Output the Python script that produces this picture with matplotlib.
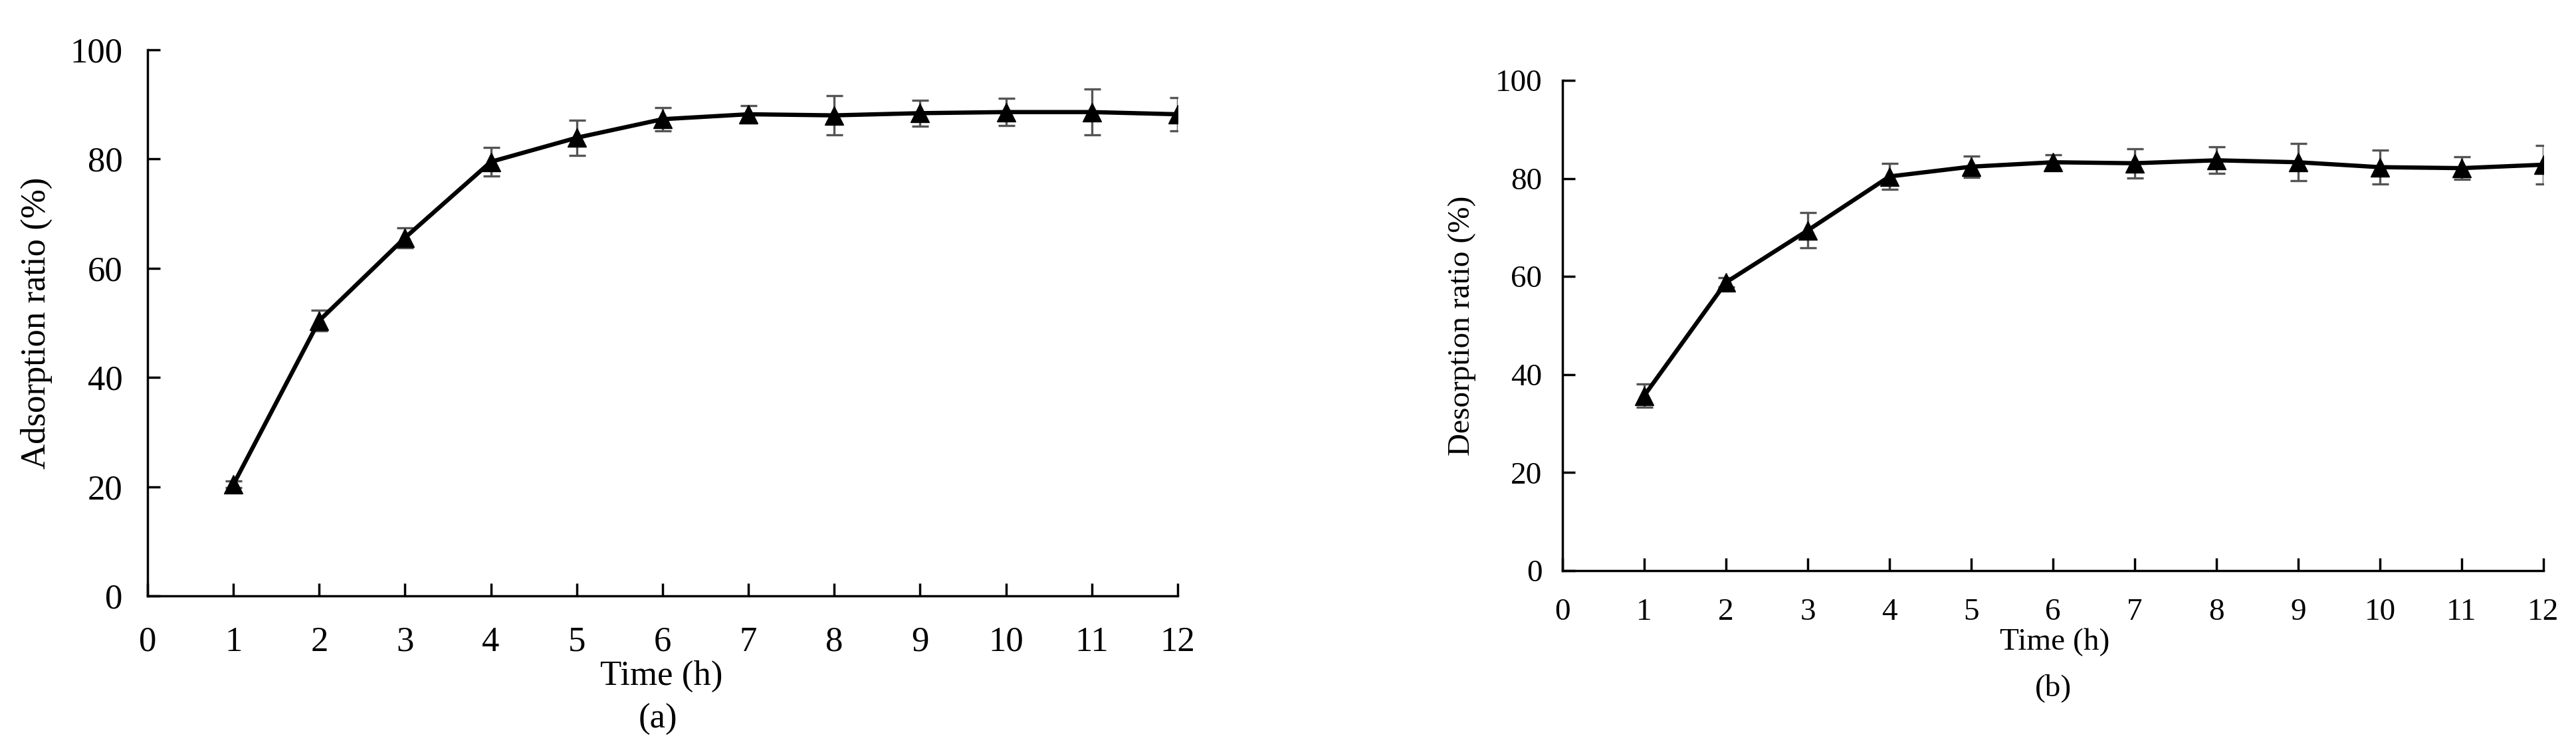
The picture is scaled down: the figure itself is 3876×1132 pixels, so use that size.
import numpy as np
import matplotlib
matplotlib.use("Agg")
import matplotlib.pyplot as plt

# time points (h)
time_h = [1, 2, 3, 4, 5, 6, 7, 8, 9, 10, 11, 12]

# (a) adsorption ratio (%) and error
adsorption = [20.4, 50.4, 65.6, 79.5, 83.9, 87.3, 88.2, 88.0, 88.4, 88.6, 88.6, 88.2]
adsorption_err = [0.6, 1.9, 1.8, 2.6, 3.2, 2.1, 1.6, 3.6, 2.4, 2.5, 4.2, 3.1]

# (b) desorption ratio (%) and error
desorption = [35.7, 58.8, 69.4, 80.4, 82.4, 83.3, 83.1, 83.7, 83.3, 82.3, 82.1, 82.8]
desorption_err = [2.4, 0.9, 3.6, 2.6, 2.2, 1.5, 3.0, 2.7, 3.8, 3.5, 2.3, 3.9]

x_ticks = list(range(0, 13))
y_ticks = [0, 20, 40, 60, 80, 100]

plt.rcParams['font.family'] = ['Liberation Serif', 'DejaVu Serif']

W, H = 3876, 1132
fig = plt.figure(figsize=(W / 100, H / 100), dpi=100)


def panel(rect, y, yerr, ylabel, fs, xpad, ypad):
    ax = fig.add_axes(rect)
    ax.errorbar(time_h, y, yerr=yerr, color="black", lw=4.6, marker="^", ms=20,
                ecolor="#555555", elinewidth=2.4, capsize=9, capthick=2.4, zorder=3)
    ax.set_xlim(0, 12)
    ax.set_ylim(0, 100)
    ax.set_xticks(x_ticks)
    ax.set_yticks(y_ticks)
    ax.spines["top"].set_visible(False)
    ax.spines["right"].set_visible(False)
    for s in ("left", "bottom"):
        ax.spines[s].set_linewidth(2.5)
    ax.tick_params(axis="both", direction="in", length=14, width=2.5, labelsize=fs)
    ax.tick_params(axis="x", pad=xpad)
    ax.tick_params(axis="y", pad=ypad)
    ax.set_ylabel(ylabel, fontsize=fs)
    return ax


ax1 = panel([222 / W, 1 - 897 / H, 1550 / W, 822 / H], adsorption, adsorption_err,
            "Adsorption ratio (%)", 38, 33, 27)
ax1.yaxis.set_label_coords(-0.092, 0.5)
fig.text(995 / W, 1 - 1018 / H, "Time (h)", fontsize=38, ha="center", va="center")
fig.text(990 / W, 1 - 1083 / H, "(a)", fontsize=38, ha="center", va="center")

ax2 = panel([2351 / W, 1 - 859 / H, 1476 / W, 738 / H], desorption, desorption_err,
            "Desorption ratio (%)", 34, 30, 22)
ax2.yaxis.set_label_coords(-0.088, 0.5)
fig.text(3092 / W, 1 - 967 / H, "Time (h)", fontsize=34, ha="center", va="center")
fig.text(3090 / W, 1 - 1036 / H, "(b)", fontsize=34, ha="center", va="center")

fig.savefig("out.png", dpi=100)
